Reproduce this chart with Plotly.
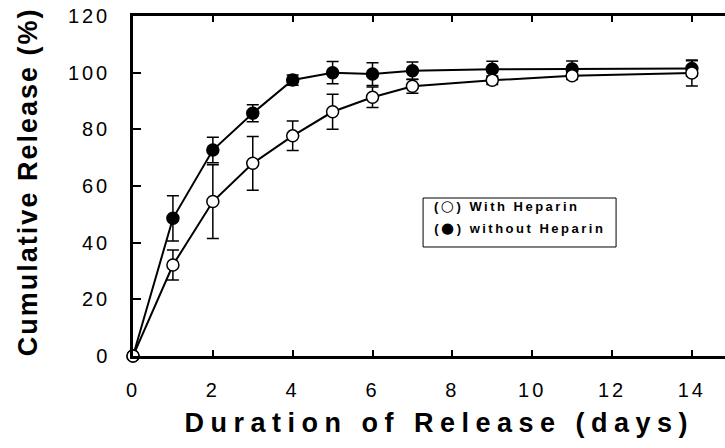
import plotly.graph_objects as go

days = [0, 1, 2, 3, 4, 5, 6, 7, 9, 11, 14]
with_heparin = [0, 32.1, 54.5, 68.0, 77.7, 86.2, 91.3, 95.2, 97.3, 98.9, 99.9]
with_heparin_err = [0, 5.3, 13.0, 9.5, 5.2, 6.2, 3.6, 2.5, 1.5, 1.3, 4.6]
without_heparin = [0, 48.6, 72.7, 85.7, 97.4, 100.0, 99.5, 100.7, 101.2, 101.3, 101.5]
without_heparin_err = [0, 8.0, 4.5, 3.0, 1.8, 3.9, 4.0, 3.1, 2.8, 2.8, 2.7]

x_ticks = [0, 2, 4, 6, 8, 10, 12, 14]
y_ticks = [0, 20, 40, 60, 80, 100, 120]

x_title = "Duration of Release (days)"
y_title = "Cumulative Release (%)"
legend_symbols = ["\u25CB", "\u25CF"]
legend_labels = ["With Heparin", "without Heparin"]

FONT = "Liberation Sans, Arial, sans-serif"

fig = go.Figure()

fig.add_trace(go.Scatter(
    x=days, y=without_heparin, mode="lines+markers", name="without Heparin",
    line=dict(color="black", width=2),
    marker=dict(symbol="circle", size=12, color="black", line=dict(color="black", width=1.5)),
    error_y=dict(type="data", array=without_heparin_err, visible=True,
                 color="black", thickness=1.5, width=6),
    cliponaxis=False, showlegend=False,
))
fig.add_trace(go.Scatter(
    x=days, y=with_heparin, mode="lines+markers", name="With Heparin",
    line=dict(color="black", width=2),
    marker=dict(symbol="circle", size=12, color="white", line=dict(color="black", width=1.5)),
    error_y=dict(type="data", array=with_heparin_err, visible=True,
                 color="black", thickness=1.5, width=6),
    cliponaxis=False, showlegend=False,
))

fig.update_layout(
    width=725, height=448,
    margin=dict(l=133, r=0, t=16, b=92),
    paper_bgcolor="white", plot_bgcolor="white",
    font=dict(family=FONT, color="black"),
    showlegend=False,
)

fig.update_xaxes(
    range=[0, 14.83], tickvals=x_ticks, ticktext=[str(v) for v in x_ticks],
    showgrid=False, zeroline=False,
    showline=True, linecolor="black", linewidth=2.5, mirror="ticks",
    ticks="inside", ticklen=6, tickwidth=1.5, tickcolor="black",
    tickfont=dict(family=FONT, size=20, color="black"),
    ticklabelstandoff=14,
)
fig.update_yaxes(
    range=[0, 120], tickvals=y_ticks, ticktext=[str(v) for v in y_ticks],
    showgrid=False, zeroline=False,
    showline=True, linecolor="black", linewidth=2.5, mirror=False,
    ticks="inside", ticklen=8, tickwidth=1.5, tickcolor="black",
    tickfont=dict(family=FONT, size=20, color="black"),
    ticklabelstandoff=16,
)

# axis titles
fig.add_annotation(text=x_title, xref="paper", yref="paper", x=0.517, y=-0.197,
                   xanchor="center", yanchor="middle", showarrow=False,
                   font=dict(family=FONT, size=27, color="black", weight="bold"))
fig.add_annotation(text=y_title, xref="paper", yref="paper", x=-0.177, y=0.512,
                   xanchor="center", yanchor="middle", showarrow=False, textangle=-90,
                   font=dict(family=FONT, size=27, color="black", weight="bold"))

# legend box
fig.add_shape(type="rect", xref="paper", yref="paper",
              x0=0.49, x1=0.816, y0=0.3206, y1=0.4647,
              line=dict(color="black", width=1), fillcolor="white", layer="below")
for sym, lab, xx, yy in zip(legend_symbols, legend_labels, [0.631, 0.654], [0.440, 0.376]):
    txt = ("(<span style='font-family:DejaVu Sans;font-size:15px'>" + sym +
           "</span>) " + lab)
    fig.add_annotation(text=txt, xref="paper", yref="paper", x=xx, y=yy,
                       xanchor="center", yanchor="middle", showarrow=False,
                       font=dict(family=FONT, size=13, color="black", weight="bold"))

post = """
document.body.style.margin = '0';
document.body.style.padding = '0';
var gd = document.getElementById('{plot_id}');
function sp(){
  gd.querySelectorAll('g.xtick text, g.ytick text').forEach(function(t){ t.style.letterSpacing = '3px'; });
  gd.querySelectorAll('g.annotation text').forEach(function(t){
    var s = t.textContent || '';
    if (s.indexOf('Duration') >= 0) { t.style.letterSpacing = '6.5px'; }
    else if (s.indexOf('Cumulative') >= 0) { t.style.letterSpacing = '2px'; }
    else { t.style.letterSpacing = '2.5px'; }
  });
}
sp();
gd.on('plotly_afterplot', sp);
"""

fig.write_html("out.html", post_script=post, config={"displayModeBar": False})
